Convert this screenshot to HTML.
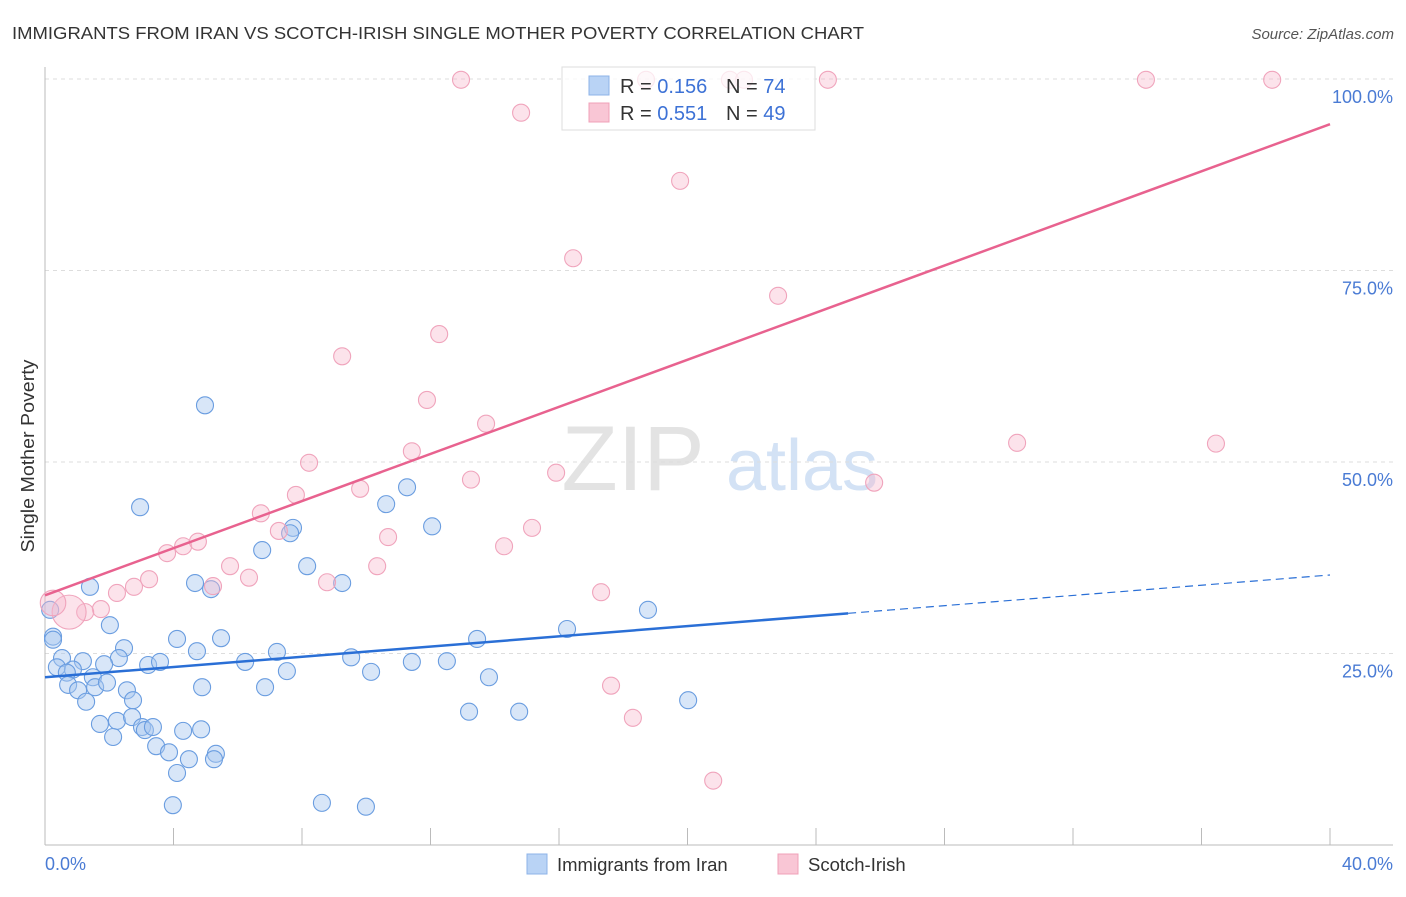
<!DOCTYPE html>
<html><head><meta charset="utf-8"><style>
body{margin:0;background:#fff;font-family:"Liberation Sans",sans-serif;}
svg text{font-family:"Liberation Sans",sans-serif;}
</style></head><body>
<svg id="chart" width="1406" height="892" xmlns="http://www.w3.org/2000/svg">
<text x="12" y="39" font-size="17.5" fill="#333" textLength="852" lengthAdjust="spacingAndGlyphs">IMMIGRANTS FROM IRAN VS SCOTCH-IRISH SINGLE MOTHER POVERTY CORRELATION CHART</text>
<text x="1394" y="39" font-size="15" fill="#555" font-style="italic" text-anchor="end">Source: ZipAtlas.com</text>
<text transform="translate(34,456) rotate(-90)" font-size="18.5" fill="#333" text-anchor="middle" textLength="193" lengthAdjust="spacingAndGlyphs">Single Mother Poverty</text>
<g><text x="633" y="490" font-size="92" font-family="Liberation Serif,serif" fill="#e3e3e3" text-anchor="middle">ZIP</text><text x="802" y="490" font-size="72" fill="#d3e2f5" text-anchor="middle">atlas</text></g>
<g id="grid"></g><g id="axes"></g><g id="marks"></g>
<g>
<rect x="562" y="67" width="253" height="63" fill="#fff" fill-opacity="0.75" stroke="#ddd"/>
<rect x="589" y="76" width="20" height="19" fill="#b9d3f5" stroke="#8db3e8"/>
<rect x="589" y="103" width="20" height="19" fill="#f9c6d5" stroke="#f0a0b8"/>
<text x="620" y="93" font-size="20" fill="#333">R = <tspan fill="#3d72d6">0.156</tspan></text>
<text x="726" y="93" font-size="20" fill="#333">N = <tspan fill="#3d72d6">74</tspan></text>
<text x="620" y="120" font-size="20" fill="#333">R = <tspan fill="#3d72d6">0.551</tspan></text>
<text x="726" y="120" font-size="20" fill="#333">N = <tspan fill="#3d72d6">49</tspan></text>
</g>
<g>
<rect x="527" y="854" width="20" height="20" fill="#b9d3f5" stroke="#8db3e8"/>
<text x="557" y="871" font-size="18.5" fill="#333">Immigrants from Iran</text>
<rect x="778" y="854" width="20" height="20" fill="#f9c6d5" stroke="#f0a0b8"/>
<text x="808" y="871" font-size="18.5" fill="#333">Scotch-Irish</text>
</g>
</svg>
<script>
const yTicks=[25,50,75,100];
const yTickLabels=["25.0%","50.0%","75.0%","100.0%"];
const xTicks=[0,4,8,12,16,20,24,28,32,36,40];
const iranX=[4.98,2.96,1.40,10.62,11.27,12.05,7.72,7.63,6.76,8.16,4.67,5.17,9.25,2.02,0.16,0.25,0.25,4.11,5.48,4.73,7.22,2.46,2.30,1.18,1.84,0.53,0.37,0.87,0.68,3.21,3.58,6.23,9.53,11.42,12.51,7.53,10.15,1.49,1.56,1.93,0.72,1.03,4.89,6.85,1.28,2.55,2.74,1.71,2.24,2.12,2.71,3.02,3.11,3.36,4.30,4.86,3.46,3.86,4.48,5.32,5.26,4.11,3.98,8.62,9.99,13.45,13.82,13.20,14.76,16.25,18.77,20.02];
const iranY=[57.4,44.1,33.7,44.5,46.7,41.6,41.4,40.7,38.5,36.4,34.2,33.4,34.2,28.7,30.7,27.2,26.8,26.9,27.0,25.3,25.2,25.7,24.4,24.0,23.6,24.4,23.2,22.9,22.5,23.5,23.9,23.9,24.5,23.9,24.0,22.7,22.6,21.9,20.6,21.2,20.9,20.2,20.6,20.6,18.7,20.2,18.9,15.8,16.2,14.1,16.7,15.4,15.0,15.4,14.9,15.1,12.9,12.1,11.2,11.9,11.2,9.4,5.2,5.5,5.0,26.9,21.9,17.4,17.4,28.2,30.7,18.9];
const scotX=[11.89,11.42,8.22,9.81,7.81,6.72,7.28,10.68,3.80,4.30,4.76,5.76,6.35,8.78,10.34,5.23,3.24,2.77,2.24,1.74,1.25,0.75,0.25,12.95,14.82,18.71,21.32,21.76,24.37,34.27,38.20,19.77,16.44,22.82,12.27,9.25,13.73,15.91,13.26,15.16,14.29,17.31,17.62,18.30,20.80,30.26,36.45,25.81];
const scotY=[58.1,51.4,49.9,46.5,45.7,43.3,41.0,40.2,38.1,39.0,39.6,36.4,34.9,34.3,36.4,33.8,34.7,33.7,32.9,30.8,30.4,30.4,31.6,99.9,95.6,99.9,99.9,99.9,99.9,99.9,99.9,86.7,76.6,71.7,66.7,63.8,55.0,48.6,47.7,41.4,39.0,33.0,20.8,16.6,8.4,52.5,52.4,47.3];
const scotW=[1,1,1,1,1,1,1,1,1,1,1,1,1,1,1,1,1,1,1,1,1,2,1.5,1,1,1,1,1,1,1,1,1,1,1,1,1,1,1,1,1,1,1,1,1,1,1,1,1];
const iranTrend=[21.9,35.25];
const scotTrend=[32.6,94.1];
const iranSolidEnd=25;
const NS="http://www.w3.org/2000/svg";
const sx=v=>45+v/40*1285, sy=v=>845-v/100*766;
function mk(tag,attrs,parent){const e=document.createElementNS(NS,tag);for(const k in attrs)e.setAttribute(k,attrs[k]);parent.appendChild(e);return e;}
const grid=document.getElementById('grid'),axes=document.getElementById('axes'),marks=document.getElementById('marks');
yTicks.forEach((t,i)=>{
 const l=mk('line',{x1:45,x2:1393,y1:sy(t),y2:sy(t),stroke:'#ddd','stroke-dasharray':'4,4'},grid);
 
 
 const tx=mk('text',{x:1393,y:sy(t)+24,'font-size':18,fill:'#4a7bd4','text-anchor':'end'},axes);
 tx.textContent=yTickLabels[i];
 
 
});
const ya=mk('line',{x1:45,x2:45,y1:67,y2:845,stroke:'#bbb'},axes);


const xa=mk('line',{x1:45,x2:1393,y1:845,y2:845,stroke:'#bbb'},axes);


xTicks.forEach(t=>{
 const l=mk('line',{x1:sx(t),x2:sx(t),y1:828,y2:845,stroke:'#bbb'},axes);
 
 
});
const xl0=mk('text',{x:45,y:870,'font-size':18,fill:'#4a7bd4'},axes);xl0.textContent=xTicks[0].toFixed(1)+'%';


const xl1=mk('text',{x:1393,y:870,'font-size':18,fill:'#4a7bd4','text-anchor':'end'},axes);xl1.textContent=xTicks[xTicks.length-1].toFixed(1)+'%';


iranX.forEach((x,i)=>{
 const c=mk('circle',{cx:sx(x),cy:sy(iranY[i]),r:8.5,fill:'#a9c8f0','fill-opacity':0.45,stroke:'#6a9de0','stroke-width':1.1},marks);
 
 
});
scotX.forEach((x,i)=>{
 const c=mk('circle',{cx:sx(x),cy:sy(scotY[i]),r:8.5*scotW[i],fill:'#f7b9cc','fill-opacity':0.4,stroke:'#f0a4bc','stroke-width':1.1},marks);
 
 
});
const f=(tr,x)=>tr[0]+(tr[1]-tr[0])*x/40;
const bl=mk('line',{x1:sx(0),y1:sy(f(iranTrend,0)),x2:sx(iranSolidEnd),y2:sy(f(iranTrend,iranSolidEnd)),stroke:'#2a6fd6','stroke-width':2.5},marks);


const bd=mk('line',{x1:sx(iranSolidEnd),y1:sy(f(iranTrend,iranSolidEnd)),x2:sx(40),y2:sy(f(iranTrend,40)),stroke:'#2a6fd6','stroke-width':1.2,'stroke-dasharray':'8,5'},marks);


const pl=mk('line',{x1:sx(0),y1:sy(f(scotTrend,0)),x2:sx(40),y2:sy(f(scotTrend,40)),stroke:'#e8628f','stroke-width':2.5},marks);


</script>
</body></html>
